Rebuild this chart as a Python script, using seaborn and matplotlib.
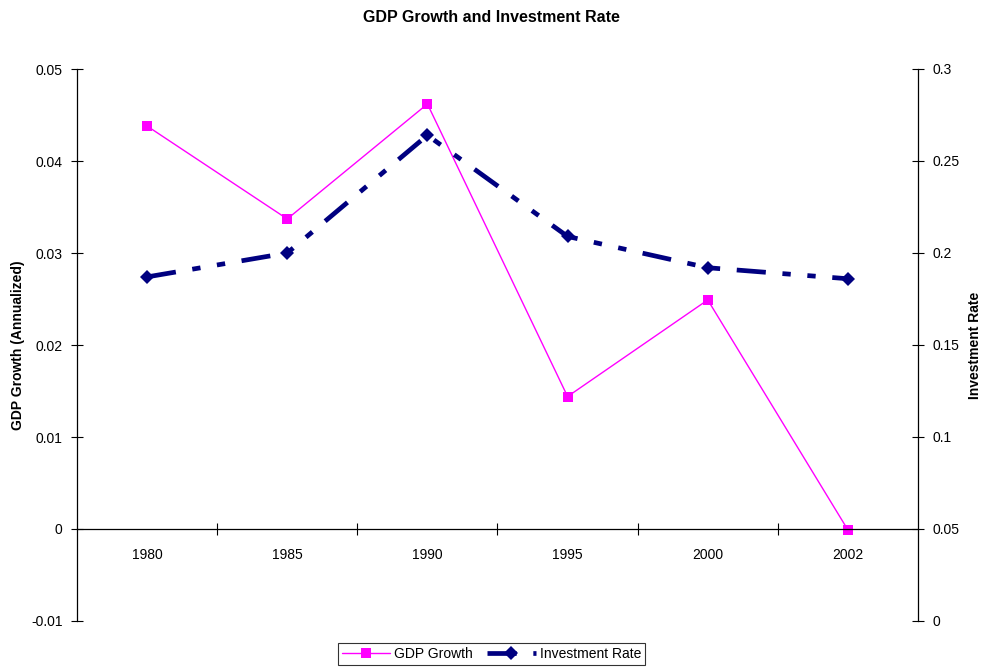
import matplotlib
matplotlib.use('Agg')
import matplotlib.pyplot as plt
import seaborn as sns
import pandas as pd
from matplotlib.ticker import FixedLocator, NullFormatter, FixedFormatter

# data
years = ['1980', '1985', '1990', '1995', '2000', '2002']
gdp_growth = [0.0438, 0.0337, 0.0462, 0.0144, 0.0249, -0.0001]
investment_rate = [0.187, 0.200, 0.264, 0.209, 0.192, 0.186]

df = pd.DataFrame({'year': years, 'pos': range(len(years)),
                   'gdp': gdp_growth, 'inv': investment_rate})

sns.set_style('white', {'text.color': 'black', 'axes.labelcolor': 'black',
                        'xtick.color': 'black', 'ytick.color': 'black',
                        'xtick.bottom': True, 'ytick.left': True})
plt.rcParams['font.family'] = ['Liberation Sans', 'DejaVu Sans']
plt.rcParams['lines.scale_dashes'] = False

fig = plt.figure(figsize=(9.83, 6.72), dpi=100)
ax = fig.add_axes([77 / 983, 1 - 621 / 672, (918 - 77) / 983, (621 - 69) / 672])
ax2 = ax.twinx()

sns.lineplot(data=df, x='pos', y='gdp', ax=ax, color='#FF00FF', lw=1,
             marker='s', markersize=6.5, markeredgewidth=0, label='GDP Growth',
             legend=False)
sns.lineplot(data=df, x='pos', y='inv', ax=ax2, color='#000080', lw=3.4,
             marker='D', markersize=7.5, markeredgewidth=0, label='Investment Rate',
             legend=False)
ax2.lines[0].set_dashes((21, 12, 6, 12, 6, 12))

ax.set_xlim(-0.5, len(years) - 0.5)
ax.set_ylim(-0.01, 0.05)
ax2.set_ylim(0, 0.3)
ax.set_yticks([-0.01, 0, 0.01, 0.02, 0.03, 0.04, 0.05])
ax.set_yticklabels(['-0.01', '0', '0.01', '0.02', '0.03', '0.04', '0.05'])
ax2.set_yticks([0, 0.05, 0.1, 0.15, 0.2, 0.25, 0.3])
ax2.set_yticklabels(['0', '0.05', '0.1', '0.15', '0.2', '0.25', '0.3'])

# category axis crossing at zero, ticks between categories
ax.xaxis.set_major_locator(FixedLocator([i + 0.5 for i in range(len(years) - 1)]))
ax.xaxis.set_major_formatter(NullFormatter())
ax.xaxis.set_minor_locator(FixedLocator(list(range(len(years)))))
ax.xaxis.set_minor_formatter(FixedFormatter(years))
ax.tick_params(axis='x', which='major', bottom=True, direction='inout',
               length=9, width=0.8, color='black')
ax.tick_params(axis='x', which='minor', bottom=True, length=0, pad=14,
               labelsize=10, labelcolor='black')
ax.set_xlabel('')

for a in (ax, ax2):
    for s in a.spines.values():
        s.set_color('black')
        s.set_linewidth(0.9)
    a.spines['top'].set_visible(False)
    a.grid(False)
ax.spines['bottom'].set_position(('data', 0))
ax2.spines['bottom'].set_visible(False)
ax.spines['right'].set_visible(False)
ax2.spines['left'].set_visible(False)

ax.tick_params(axis='y', left=True, direction='inout', length=9, width=0.8,
               labelsize=10, pad=6, color='black', labelcolor='black')
ax2.tick_params(axis='y', right=True, direction='inout', length=9, width=0.8,
                labelsize=10, pad=6, color='black', labelcolor='black')
ax.set_ylabel('GDP Growth (Annualized)', fontsize=10, fontweight='bold',
              labelpad=4, color='black')
ax2.set_ylabel('Investment Rate', fontsize=10, fontweight='bold',
               labelpad=6, color='black')

fig.suptitle('GDP Growth and Investment Rate', y=0.985, fontsize=11.5,
             fontweight='bold', color='black')

handles = [ax.lines[0], ax2.lines[0]]
leg = fig.legend(handles, ['GDP Growth', 'Investment Rate'], loc='lower center',
                 bbox_to_anchor=(0.5, 0.0), ncol=2, fontsize=10, frameon=True,
                 fancybox=False, borderpad=0.3, handlelength=3.5, columnspacing=1.0,
                 handletextpad=0.3)
leg.get_frame().set_edgecolor('black')
leg.get_frame().set_linewidth(0.8)
for t in leg.get_texts():
    t.set_color('black')

fig.savefig('out.png', dpi=100)
